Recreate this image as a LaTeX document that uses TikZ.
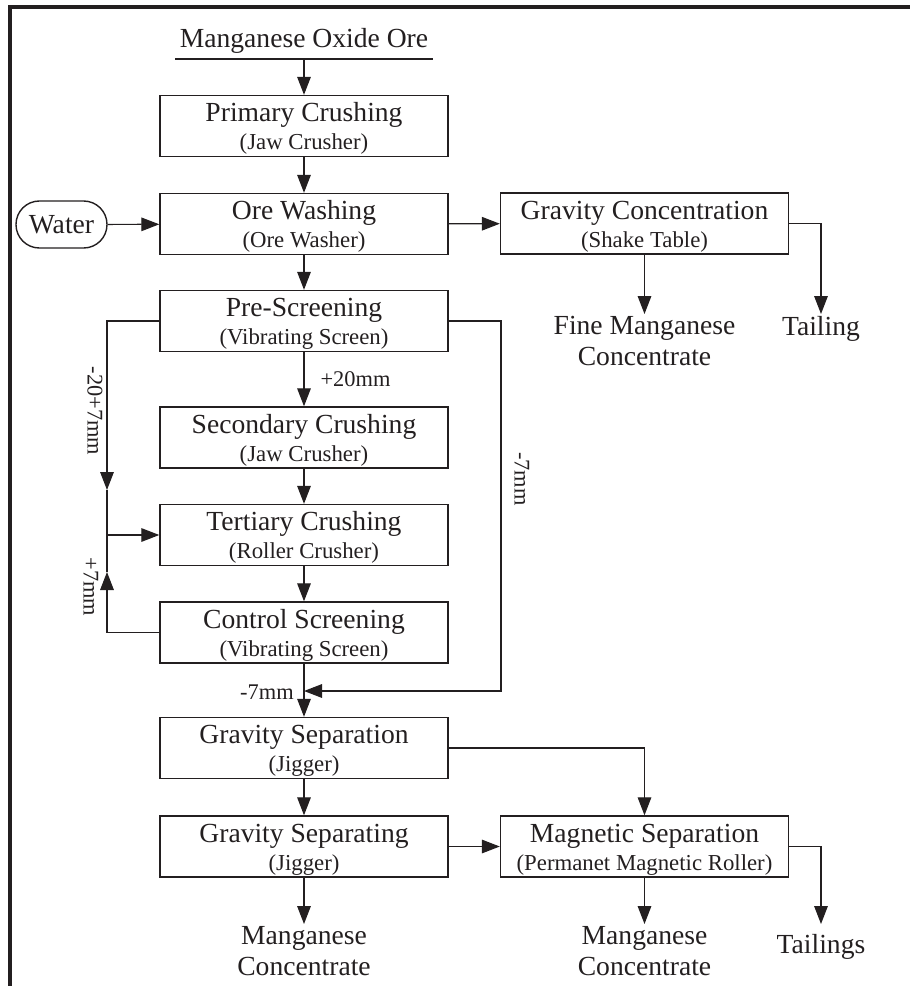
\documentclass[tikz,border=0pt]{standalone}
\usepackage{fontspec}
\setmainfont{Liberation Serif}
\usetikzlibrary{arrows.meta}
\definecolor{ink}{RGB}{35,31,32}
\newcommand\mainf{\fontsize{13.8pt}{14pt}\selectfont}
\newcommand\subf{\fontsize{11.4pt}{14pt}\selectfont}
\newcommand\labf{\fontsize{11.2pt}{13pt}\selectfont}
% extra headroom on the first line of a box, to sit the text a little lower
\newcommand\hd{\rule{0pt}{12.2pt}}
\tikzset{
  unit/.style={draw=ink, line width=0.7pt, minimum width=144pt, minimum height=30.5pt,
    align=center, inner sep=0pt, font=\mainf, text=ink},
  outtext/.style={align=center, inner sep=1pt, font=\fontsize{13.8pt}{15.5pt}\selectfont, text=ink, anchor=north},
  flowlabel/.style={font=\labf, text=ink, inner sep=0pt},
  link/.style={draw=ink, line width=0.6pt},
  arr/.style={link, -{Triangle[length=9pt,width=6.8pt]}},
  frame/.style={draw=ink, line width=2.2pt}
}
\begin{document}
\begin{tikzpicture}[x=0.5pt, y=-0.5pt]
\useasboundingbox (0,0) rectangle (910,986);

% outer frame (top and left edges only)
\coordinate (ftr) at (910,7);
\coordinate (fbl) at (10,986);
\draw[frame] (ftr) -- (8,7);
\draw[frame] (10,5) -- (fbl);

% feed
\node[font=\mainf, text=ink, inner xsep=2pt, inner ysep=2.6pt, anchor=south] (ore) at (304,59) {Manganese Oxide Ore};
\draw[link] (ore.south west) -- (ore.south east);

% main column
\node[unit] (prim) at (304,126)   {\hd Primary Crushing\\{\subf (Jaw Crusher)}};
\node[unit] (wash) at (304,224)   {\hd Ore Washing\\{\subf (Ore Washer)}};
\node[unit] (pre)  at (304,321)   {\hd Pre-Screening\\{\subf (Vibrating Screen)}};
\node[unit] (sec)  at (304,437.5) {\hd Secondary Crushing\\{\subf (Jaw Crusher)}};
\node[unit] (ter)  at (304,535)   {\hd Tertiary Crushing\\{\subf (Roller Crusher)}};
\node[unit] (ctl)  at (304,632.5) {\hd Control Screening\\{\subf (Vibrating Screen)}};
\node[unit] (gs1)  at (304,748)   {\hd Gravity Separation\\{\subf (Jigger)}};
\node[unit] (gs2)  at (304,846.5) {\hd Gravity Separating\\{\subf (Jigger)}};

% right column
\node[unit] (grav) at (644.5,223.5) {\hd Gravity Concentration\\{\subf (Shake Table)}};
\node[unit] (mag)  at (644.5,846.5) {\hd Magnetic Separation\\{\subf (Permanet Magnetic Roller)}};

% water feed
\node[draw=ink, line width=0.7pt, rounded corners=11.7pt, minimum width=45.5pt, minimum height=23.5pt,
      inner sep=0pt, font=\mainf, text=ink] (water) at (61.5,224.5) {Water};

% products
\node[outtext] (fine)  at (644.5,314) {Fine Manganese\\Concentrate};
\node[outtext] (tail1) at (821,314)   {Tailing};
\node[outtext] (con1)  at (304,924)   {Manganese\\Concentrate};
\node[outtext] (con2)  at (644.5,924) {Manganese\\Concentrate};
\node[outtext, inner ysep=4.8pt] (tail2) at (821,924) {Tailings};

% helper points for the screening loops
\coordinate (la) at (107,490);
\coordinate (lm) at (107,535);
\coordinate (lb) at (107,572);
\coordinate (rc) at (501,691);
\coordinate (jn) at (304,691);
\coordinate (gm) at (644.5,748);

% connectors
\draw[arr] (ore.south) -- (prim);
\draw[arr] (prim) -- (wash);
\draw[arr] (water) -- (wash);
\draw[arr] (wash) -- (grav);
\draw[arr] (wash) -- (pre);
\draw[arr] (grav.south) -- (fine.north);
\draw[arr] (grav.east) -| (tail1.north);
\draw[arr] (pre) -- node[flowlabel, right=8pt] (l20) {+20mm} (sec);
\draw[arr] (sec) -- (ter);
\draw[arr] (ter) -- (ctl);
\draw[arr] (pre.west) -| (la);
\draw[link] (la) -- (lm);
\draw[arr] (lm) -- (ter.west);
\draw[arr] (ctl.west) -| (lb);
\draw[link] (lb) -- (lm);
\draw[arr] (pre.east) -| (rc) -- (jn);
\draw[arr] (ctl) -- (gs1);
\draw[arr] (gs1) -- (gs2);
\draw[link] (gs1.east) -- (gm);
\draw[arr] (gm) -- (mag);
\draw[arr] (gs2) -- (mag);
\draw[arr] (gs2.south) -- (con1.north);
\draw[arr] (mag.south) -- (con2.north);
\draw[arr] (mag.east) -| (tail2.north);

% size labels
\node[flowlabel, rotate=-90] (l27) at (95,411) {-20+7mm};
\node[flowlabel, rotate=-90] (l7a) at (91,587) {+7mm};
\node[flowlabel, rotate=-90] (l7b) at (522,479) {-7mm};
\node[flowlabel] (l7c) at (267,692) {-7mm};
\end{tikzpicture}
\end{document}
